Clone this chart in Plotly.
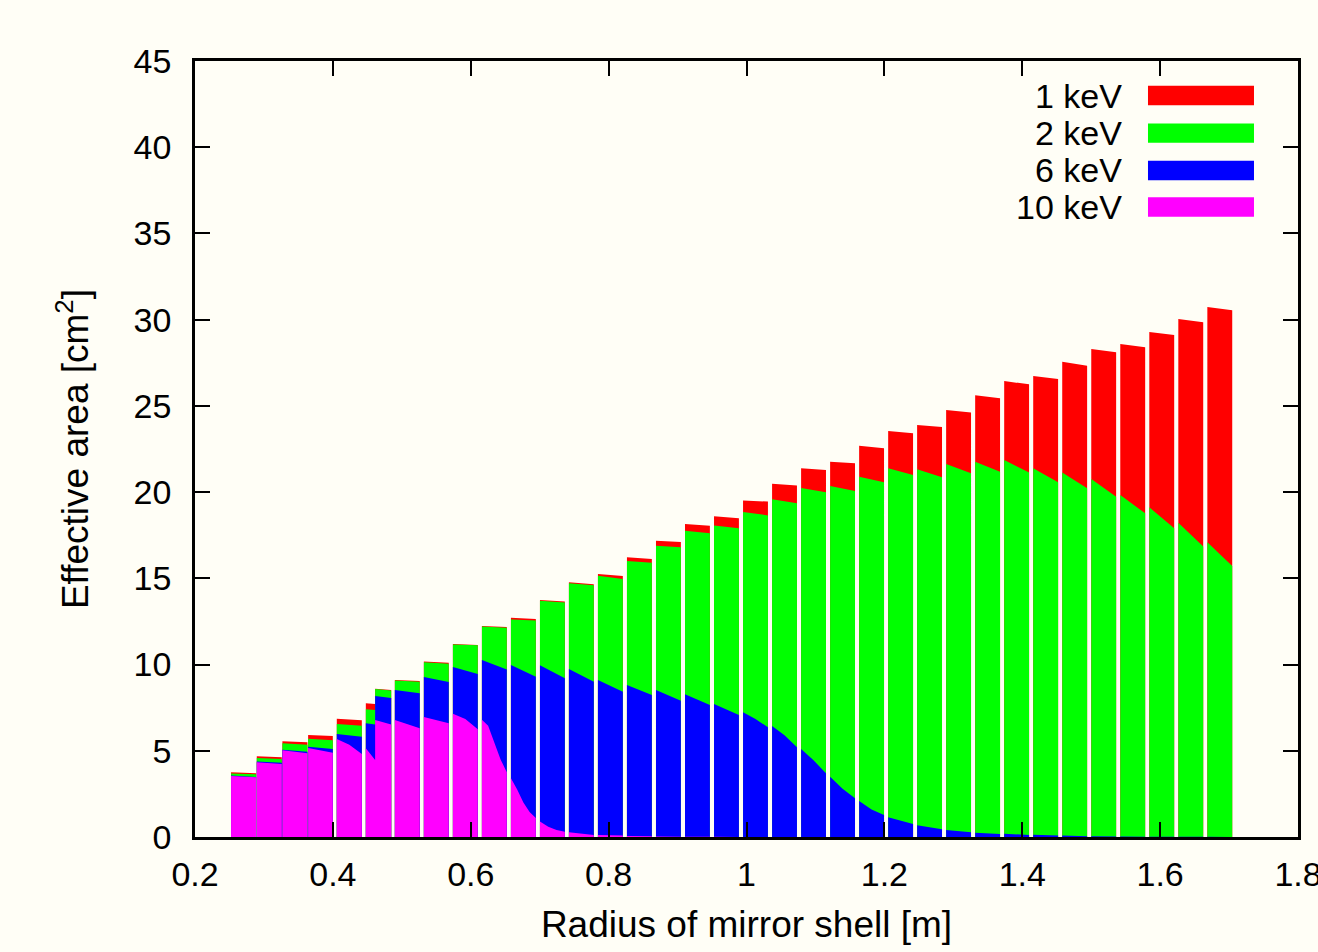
import plotly.graph_objects as go

# ---- shell extents (radius, m) ----
shell_left = [0.2523, 0.2896, 0.3268, 0.3641, 0.4057, 0.4478, 0.4613, 0.4899, 0.5320, 0.5741,
              0.6162, 0.6583, 0.7004, 0.7424, 0.7845, 0.8266, 0.8687, 0.9108, 0.9529, 0.9950,
              1.0371, 1.0792, 1.1213, 1.1634, 1.2055, 1.2475, 1.2896, 1.3317, 1.3738, 1.4159,
              1.4580, 1.5001, 1.5422, 1.5843, 1.6264, 1.6685]
shell_right = [0.2886, 0.3259, 0.3631, 0.3999, 0.4420, 0.4613, 0.4846, 0.5260, 0.5681, 0.6102,
               0.6523, 0.6944, 0.7365, 0.7785, 0.8206, 0.8627, 0.9048, 0.9469, 0.9890, 1.0311,
               1.0732, 1.1153, 1.1574, 1.1995, 1.2416, 1.2836, 1.3257, 1.3678, 1.4099, 1.4520,
               1.4941, 1.5362, 1.5783, 1.6204, 1.6625, 1.7046]

# ---- effective area [cm^2] sampled across each shell (left ... right) ----
area_1kev = [[3.75, 3.70], [4.68, 4.62], [5.55, 5.49], [5.92, 5.86], [6.86, 6.77],
             [7.75, 7.71], [8.60, 8.52], [9.10, 9.05], [10.17, 10.10], [11.19, 11.14],
             [12.24, 12.18], [12.72, 12.64], [13.74, 13.65], [14.77, 14.65], [15.25, 15.14],
             [16.22, 16.12], [17.18, 17.10], [18.15, 18.05], [18.60, 18.48], [19.52, 19.45],
             [20.49, 20.39], [21.38, 21.28], [21.76, 21.67], [22.69, 22.54], [23.54, 23.41],
             [23.89, 23.78], [24.76, 24.61], [25.61, 25.44], [26.44, 26.25], [26.73, 26.56],
             [27.56, 27.33], [28.30, 28.11], [28.59, 28.40], [29.29, 29.11], [30.04, 29.85],
             [30.74, 30.54]]

area_2kev = [[3.68, 3.64], [4.58, 4.52], [5.43, 5.35], [5.70, 5.61], [6.55, 6.45],
             [7.41, 7.37], [8.58, 8.50], [9.07, 9.00], [10.13, 10.05], [11.17, 11.12],
             [12.20, 12.14], [12.62, 12.56], [13.70, 13.60], [14.72, 14.60], [15.15, 14.96],
             [16.01, 15.91], [16.89, 16.80], [17.76, 17.61], [18.06, 17.90], [18.85, 18.65],
             [19.58, 19.35], [20.24, 19.99], [20.35, 20.07], [20.89, 20.57], [21.38, 20.99],
             [21.32, 20.86], [21.63, 21.09], [21.76, 21.18], [21.86, 21.13], [21.38, 20.57],
             [21.13, 20.22], [20.76, 19.73], [19.83, 18.77], [19.12, 17.90], [18.23, 16.84],
             [17.09, 15.72]]

area_6kev = [[3.56, 3.48], [4.38, 4.30], [5.06, 4.95], [5.24, 5.10], [5.97, 5.82],
             [6.59, 6.52], [8.18, 8.06], [8.52, 8.33], [9.28, 8.99], [9.86, 9.45],
             [10.26, 9.72], [9.97, 9.30], [9.96, 9.20], [9.74, 9.01], [9.10, 8.43],
             [8.81, 8.23], [8.52, 7.90], [8.28, 7.65], [7.71, 7.07], [7.23, 6.85, 6.36],
             [6.44, 5.90, 5.20], [5.10, 4.45, 3.69], [3.50, 2.80, 2.24], [2.09, 1.60, 1.28],
             [1.14, 0.75], [0.68, 0.45], [0.41, 0.27], [0.25, 0.17], [0.19, 0.12],
             [0.13, 0.09], [0.08, 0.05], [0.04, 0.03], [0.03, 0.02], [0.02, 0.01],
             [0.01, 0.01], [0.01, 0.0]]

area_10kev = [[3.54, 3.46], [4.33, 4.23], [5.03, 4.85], [5.16, 4.89], [5.68, 5.35, 4.81],
              [5.14, 4.47], [6.79, 6.53], [6.79, 6.30], [6.96, 6.59], [7.15, 6.85, 6.25],
              [6.80, 6.45, 5.45, 4.50, 3.75], [3.40, 2.75, 2.00, 1.45, 1.10],
              [0.90, 0.60, 0.40, 0.30], [0.28, 0.12], [0.12, 0.08], [0.06, 0.04],
              [0.03, 0.02], [0.01, 0.01], [0.01, 0.0], [0.0, 0.0], [0.0, 0.0], [0.0, 0.0],
              [0.0, 0.0], [0.0, 0.0], [0.0, 0.0], [0.0, 0.0], [0.0, 0.0], [0.0, 0.0],
              [0.0, 0.0], [0.0, 0.0], [0.0, 0.0], [0.0, 0.0], [0.0, 0.0], [0.0, 0.0],
              [0.0, 0.0], [0.0, 0.0]]

series_names = ["1 keV", "2 keV", "6 keV", "10 keV"]
series_values = [area_1kev, area_2kev, area_6kev, area_10kev]
series_colors = ["#ff0000", "#00ff00", "#0000ff", "#ff00ff"]

x_ticks = [0.2, 0.4, 0.6, 0.8, 1.0, 1.2, 1.4, 1.6, 1.8]
x_ticktext = ["0.2", "0.4", "0.6", "0.8", "1", "1.2", "1.4", "1.6", "1.8"]
y_ticks = [0, 5, 10, 15, 20, 25, 30, 35, 40, 45]


def shell_polygons(values):
    xs, ys = [], []
    for left, right, v in zip(shell_left, shell_right, values):
        n = len(v)
        pos = [left + (right - left) * k / (n - 1) for k in range(n)]
        xs += [left] + pos + [right, None]
        ys += [0] + list(v) + [0, None]
    return xs, ys


BG = "#fffef6"
FONT = "Liberation Sans, Arial, Helvetica, sans-serif"

fig = go.Figure()
for name, vals, col in zip(series_names, series_values, series_colors):
    xs, ys = shell_polygons(vals)
    fig.add_trace(go.Scatter(x=xs, y=ys, mode="lines", fill="toself", fillcolor=col,
                             line=dict(width=0, color=col), name=name,
                             showlegend=False, hoverinfo="skip"))

# gnuplot-style key: label text on the left, colour sample on the right
key_rows = [0.9555, 0.9070, 0.8589, 0.8119]
for name, col, yk in zip(series_names, series_colors, key_rows):
    fig.add_annotation(xref="paper", yref="paper", x=0.8422, y=yk, text=name,
                       showarrow=False, xanchor="right", yanchor="middle",
                       font=dict(size=34, color="black", family=FONT))
    fig.add_shape(type="rect", xref="paper", yref="paper", x0=0.8640, x1=0.9601,
                  y0=yk - 0.0125, y1=yk + 0.0125, fillcolor=col, line=dict(width=0))

axis_common = dict(showgrid=False, zeroline=False, showline=True, linecolor="black",
                   linewidth=2.5, mirror="ticks", ticks="inside", ticklen=15, tickwidth=2,
                   tickcolor="black", ticklabeloverflow="allow", automargin=False,
                   tickfont=dict(size=34, color="black", family=FONT))

fig.update_layout(
    width=1318, height=952,
    margin=dict(l=195, r=20, t=61, b=115, autoexpand=False),
    paper_bgcolor=BG, plot_bgcolor=BG,
    font=dict(family=FONT, color="black"),
    xaxis=dict(range=[0.2, 1.8], tickvals=x_ticks, ticktext=x_ticktext,
               ticklabelstandoff=5,
               title=dict(text="Radius of mirror shell [m]", standoff=20,
                          font=dict(size=37, color="black", family=FONT)),
               **axis_common),
    yaxis=dict(range=[0, 45], tickvals=y_ticks, ticklabelstandoff=14,
               title=dict(text="Effective area [cm<sup>2</sup>]", standoff=34,
                          font=dict(size=37, color="black", family=FONT)),
               **axis_common),
)

fig.write_html("out.html")
